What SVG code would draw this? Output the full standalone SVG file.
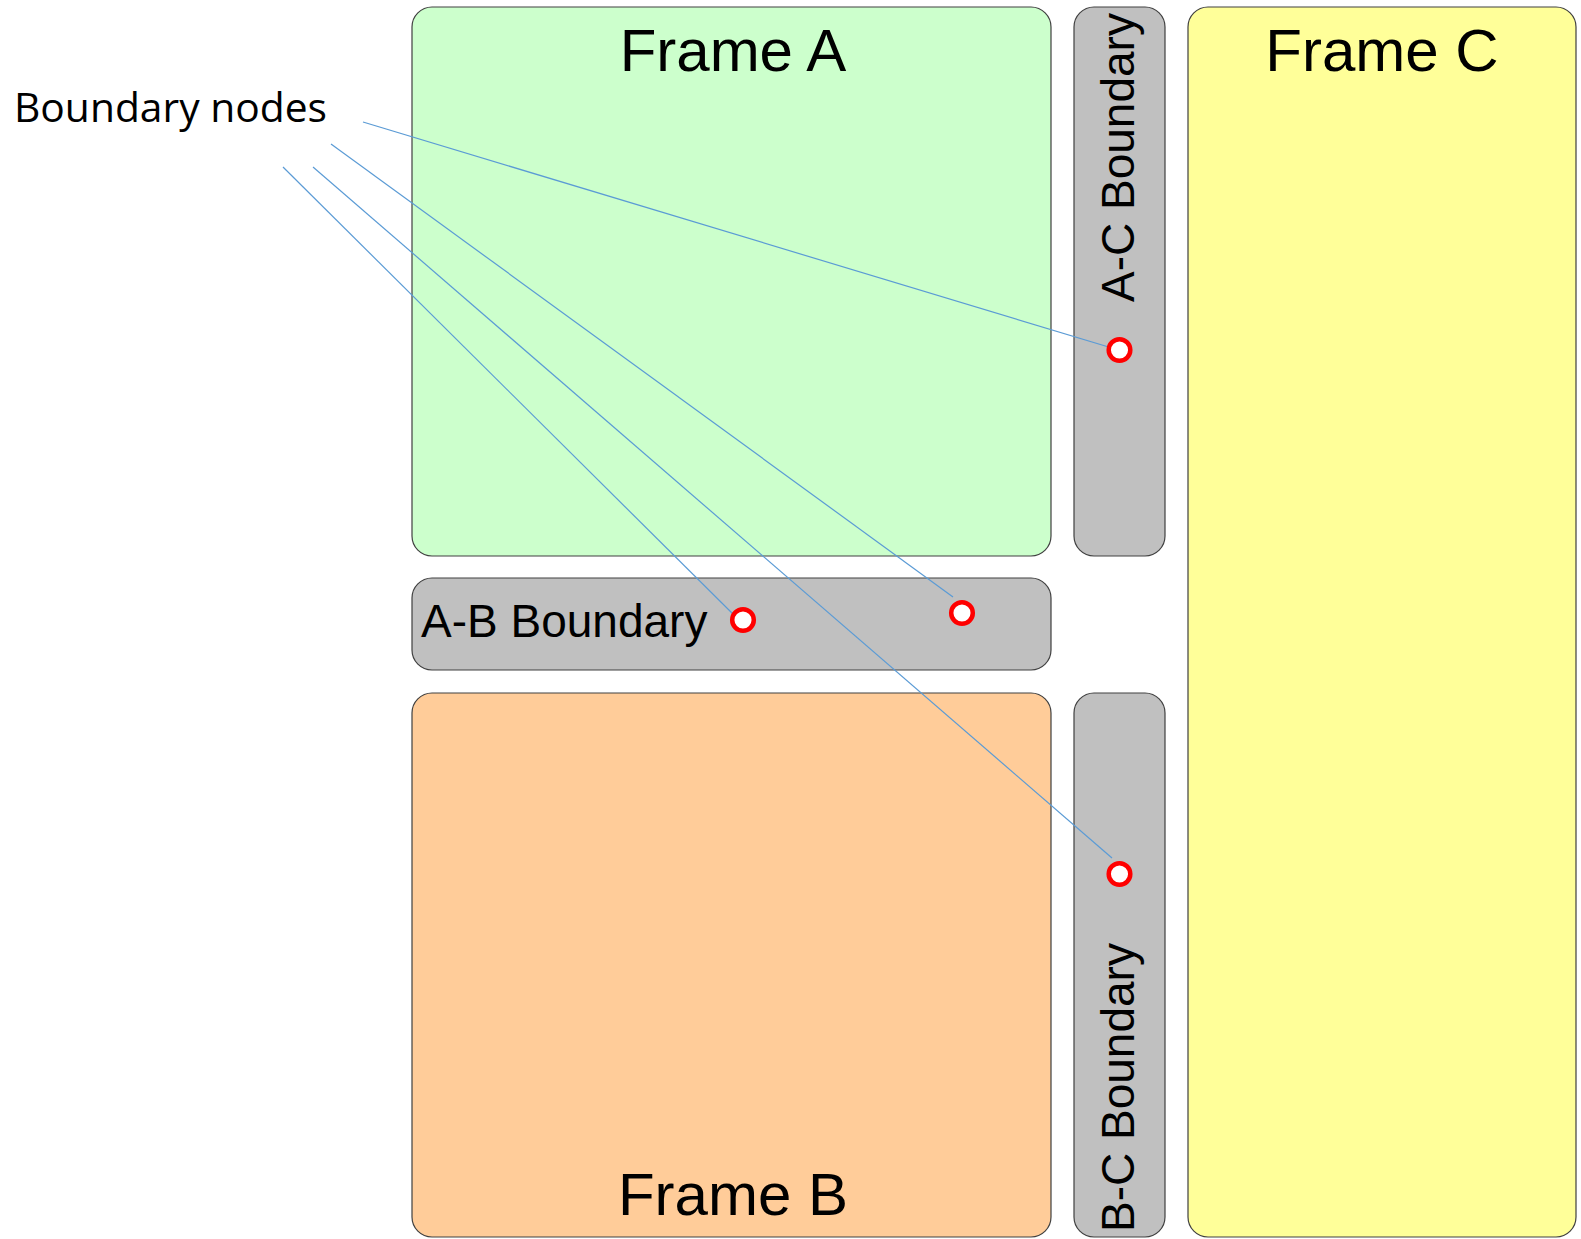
<svg xmlns="http://www.w3.org/2000/svg" width="1581" height="1239" viewBox="0 0 1581 1239">
  <style>
    .frame { stroke: #404040; stroke-width: 1.2; }
    .strip { fill: #C0C0C0; stroke: #404040; stroke-width: 1.2; }
    .title { font-family: "Liberation Sans", Arial, sans-serif; font-size: 60px; fill: #000; text-anchor: middle; }
    .blabel { font-family: "Liberation Sans", Arial, sans-serif; font-size: 46px; fill: #000; }
    .node { fill: #FFFFFF; stroke: #FF0000; stroke-width: 4.5; }
    .conn { stroke: #5B9BD5; stroke-width: 1.2; fill: none; }
    .note { font-family: "Open Sans", "Noto Sans", sans-serif; font-size: 41px; fill: #000; }
  </style>
  <rect width="1581" height="1239" fill="#FFFFFF"/>

  <g id="frame-a">
    <rect class="frame" x="412" y="7" width="639" height="549" rx="20" fill="#CCFFCC"/>
    <text class="title" x="733" y="71">Frame A</text>
  </g>
  <g id="frame-b">
    <rect class="frame" x="412" y="693" width="639" height="544" rx="20" fill="#FFCC99"/>
    <text class="title" x="733" y="1215">Frame B</text>
  </g>
  <g id="frame-c">
    <rect class="frame" x="1188" y="7" width="388" height="1230" rx="20" fill="#FFFF99"/>
    <text class="title" x="1382" y="71">Frame C</text>
  </g>
  <g id="ab-boundary">
    <rect class="strip" x="412" y="578" width="639" height="92" rx="20"/>
    <text class="blabel" x="421" y="637">A-B Boundary</text>
  </g>
  <g id="ac-boundary">
    <rect class="strip" x="1074" y="7" width="91" height="549" rx="20"/>
    <text class="blabel" transform="translate(1134,302) rotate(-90)">A-C Boundary</text>
  </g>
  <g id="bc-boundary">
    <rect class="strip" x="1074" y="693" width="91" height="544" rx="20"/>
    <text class="blabel" transform="translate(1134,1232) rotate(-90)">B-C Boundary</text>
  </g>

  <g id="label-boundary-nodes">
    <text class="note" x="14" y="121.5" textLength="313" lengthAdjust="spacingAndGlyphs">Boundary nodes</text>
  </g>

  <g id="connectors">
    <line class="conn" x1="363" y1="122" x2="1112" y2="348"/>
    <line class="conn" x1="331" y1="144" x2="953" y2="597"/>
    <line class="conn" x1="313" y1="167" x2="1112" y2="858"/>
    <line class="conn" x1="283" y1="167" x2="738" y2="619"/>
  </g>

  <g id="node-ac"><circle class="node" cx="1119.5" cy="350" r="10.8"/></g>
  <g id="node-ab1"><circle class="node" cx="743" cy="620" r="10.8"/></g>
  <g id="node-ab2"><circle class="node" cx="962" cy="613" r="10.8"/></g>
  <g id="node-bc"><circle class="node" cx="1119.5" cy="874" r="10.8"/></g>
</svg>
